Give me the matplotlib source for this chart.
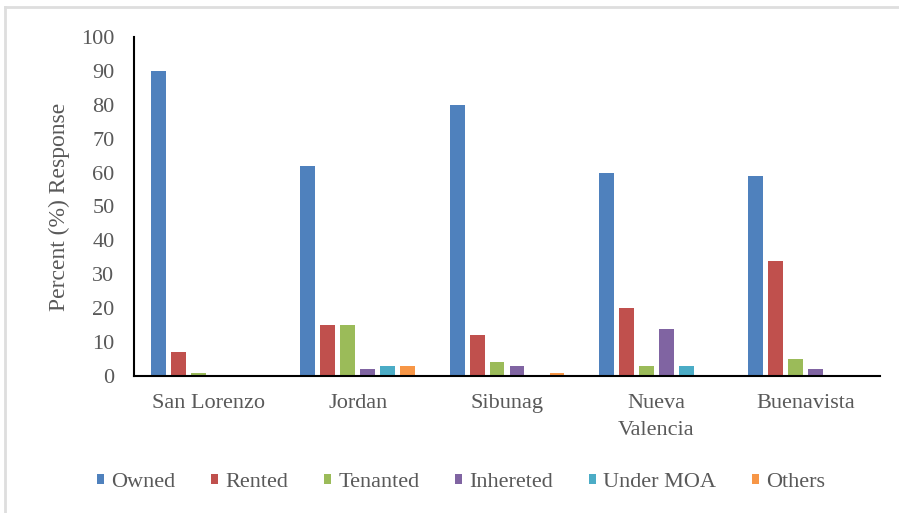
import numpy as np
import matplotlib
matplotlib.use("Agg")
import matplotlib.pyplot as plt
from matplotlib.lines import Line2D

# ----- Data -----
sites    = ["San Lorenzo", "Jordan", "Sibunag", "Nueva\nValencia", "Buenavista"]
tenure   = ["Owned", "Rented", "Tenanted", "Inhereted", "Under MOA", "Others"]
owned     = [90, 62, 80, 60, 59]
rented    = [7, 15, 12, 20, 34]
tenanted  = [1, 15, 4, 3, 5]
inherited = [0, 2, 3, 14, 2]
under_moa = [0, 3, 0, 3, 0]
others    = [0, 3, 1, 0, 0]
yticks   = list(range(0, 101, 10))
# -----------------

series = [owned, rented, tenanted, inherited, under_moa, others]
colors = ["#4F81BD", "#C0504D", "#9BBB59", "#8064A2", "#4BACC6", "#F79646"]
text_color = "#595959"

plt.rcParams["font.family"] = ["Liberation Serif", "DejaVu Serif"]

fig = plt.figure(figsize=(8.99, 5.13), dpi=100)
ax = fig.add_axes([0.149, 0.267, 0.830, 0.661])

x = np.arange(len(sites))
step, width = 0.134, 0.10
for i, (vals, name, col) in enumerate(zip(series, tenure, colors)):
    ax.bar(x + (i - 2.5) * step, vals, width, color=col, label=name)

ax.set_xlim(-0.5, len(sites) - 0.5)
ax.set_ylim(0, 100)
ax.set_yticks(yticks)
ax.set_xticks(x)
ax.set_xticklabels(sites, linespacing=1.55)
ax.tick_params(axis="both", length=0, labelsize=16, labelcolor=text_color)
ax.tick_params(axis="y", pad=14)
ax.tick_params(axis="x", pad=13)
ax.set_ylabel("Percent (%) Response", fontsize=17, color=text_color, labelpad=8)

for side in ["top", "right"]:
    ax.spines[side].set_visible(False)
for side in ["left", "bottom"]:
    ax.spines[side].set_linewidth(1.5)
    ax.spines[side].set_color("black")

fig.legend(loc="center", bbox_to_anchor=(0.513, 0.060), ncol=6, frameon=False,
           fontsize=16, labelcolor=text_color, handlelength=0.3, handleheight=0.3,
           handletextpad=0.35, columnspacing=1.6)

# light frame along the top and left edges
fig.add_artist(Line2D([0.006, 1.0], [0.986, 0.986], transform=fig.transFigure,
                      color="#dedede", linewidth=2))
fig.add_artist(Line2D([0.006, 0.006], [0.0, 0.986], transform=fig.transFigure,
                      color="#dedede", linewidth=2))

fig.savefig("out.png", dpi=100)
